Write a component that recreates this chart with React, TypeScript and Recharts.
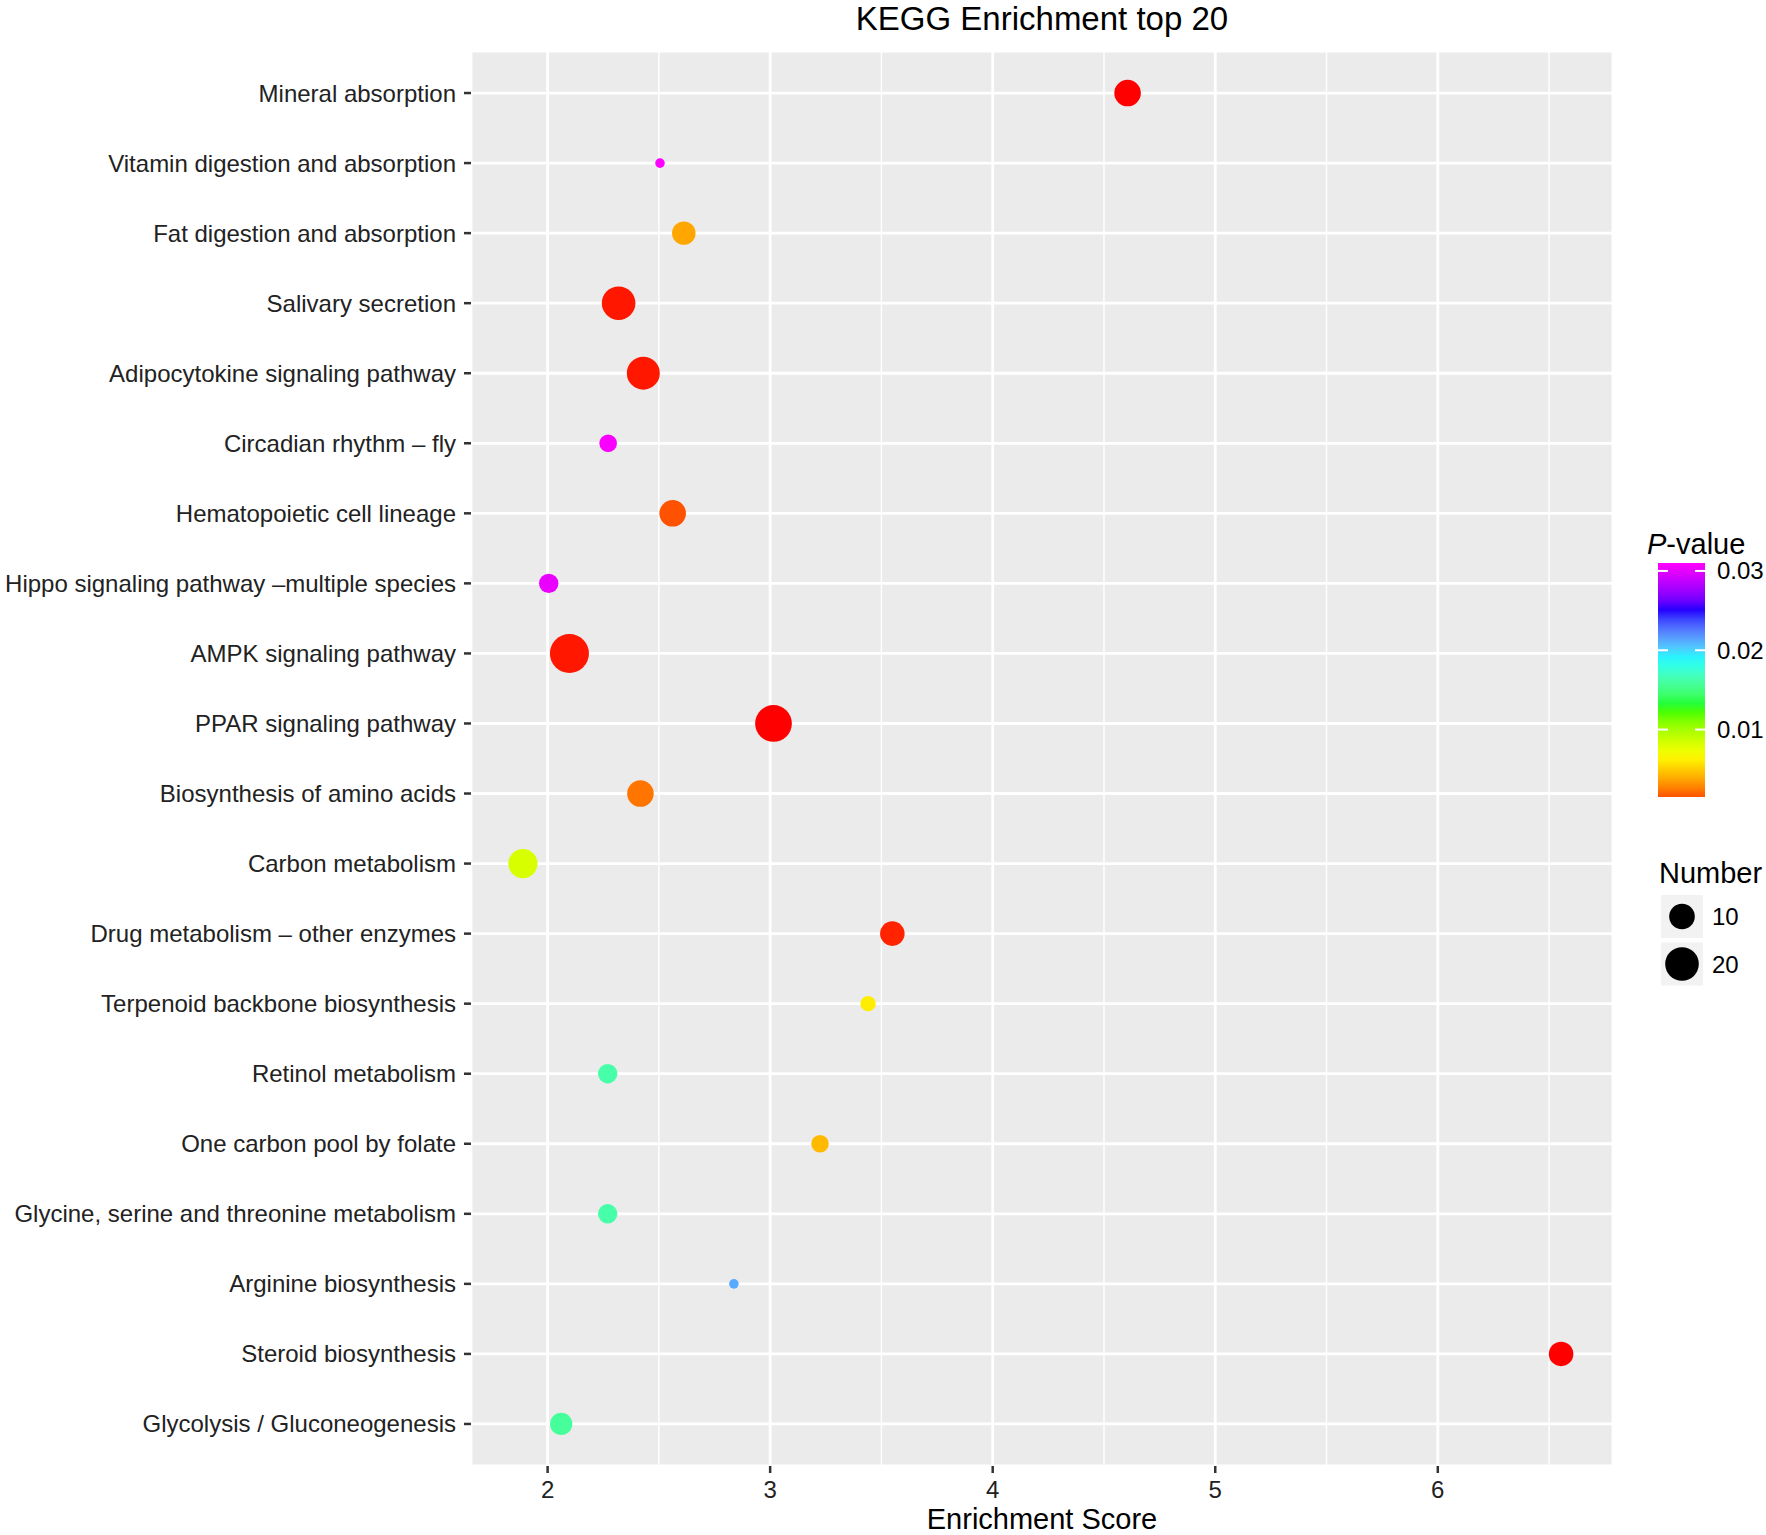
import { ScatterChart, Scatter, XAxis, YAxis, ZAxis, CartesianGrid, Customized } from 'recharts';

// rows from top to bottom, as in the figure
const pathways = [
  'Mineral absorption',
  'Vitamin digestion and absorption',
  'Fat digestion and absorption',
  'Salivary secretion',
  'Adipocytokine signaling pathway',
  'Circadian rhythm – fly',
  'Hematopoietic cell lineage',
  'Hippo signaling pathway –multiple species',
  'AMPK signaling pathway',
  'PPAR signaling pathway',
  'Biosynthesis of amino acids',
  'Carbon metabolism',
  'Drug metabolism – other enzymes',
  'Terpenoid backbone biosynthesis',
  'Retinol metabolism',
  'One carbon pool by folate',
  'Glycine, serine and threonine metabolism',
  'Arginine biosynthesis',
  'Steroid biosynthesis',
  'Glycolysis / Gluconeogenesis',
];
const enrichment = [4.606, 2.505, 2.612, 2.319, 2.43, 2.272, 2.562, 2.005, 2.098, 3.015, 2.417, 1.889, 3.549, 3.44, 2.27, 3.224, 2.27, 2.837, 6.554, 2.061];
const geneCount = [11, 2, 8, 20, 19, 4, 11, 5, 29, 25, 11, 14, 9, 3, 5, 4, 5, 2, 9, 7];
const pValue = [0.0015, 0.031, 0.0046, 0.0016, 0.0016, 0.0308, 0.0024, 0.0302, 0.0016, 0.0015, 0.0032, 0.0089, 0.0017, 0.0068, 0.0166, 0.0052, 0.0166, 0.0215, 0.0015, 0.0162];

const xTicks = [2, 3, 4, 5, 6];
const xMinorTicks = [2.5, 3.5, 4.5, 5.5, 6.5];
const pTicks = [0.01, 0.02, 0.03];
const countTicks = [10, 20];
const rainbowStops = ['#FF0000', '#FFFF00', '#00FF00', '#00FFFF', '#0000FF', '#FF00FF'];

const FONT = '"Liberation Sans", Arial, Helvetica, sans-serif';

const data = pathways.map((name, i) => ({
  name,
  row: i,
  score: enrichment[i],
  count: geneCount[i],
  p: pValue[i],
}));

// ggplot-like 5% expansion of the continuous x range
const xLo = Math.min(...enrichment);
const xHi = Math.max(...enrichment);
const xPad = (xHi - xLo) * 0.05;
const xDomain = [xLo - xPad, xHi + xPad];

const pMin = Math.min(...pValue);
const pMax = Math.max(...pValue);
const cMin = Math.min(...geneCount);
const cMax = Math.max(...geneCount);

// --- colour: gradient through the rainbow stops, interpolated in Lab ---
const toLin = (c: number) => (c <= 0.04045 ? c / 12.92 : Math.pow((c + 0.055) / 1.055, 2.4));
const fromLin = (c: number) => (c <= 0.0031308 ? 12.92 * c : 1.055 * Math.pow(c, 1 / 2.4) - 0.055);
const fLab = (t: number) => (t > 0.008856 ? Math.cbrt(t) : 7.787 * t + 16 / 116);
const fInv = (t: number) => (t > 0.206893 ? t * t * t : (t - 16 / 116) / 7.787);

const hexToLab = (hex: string) => {
  const r = toLin(parseInt(hex.slice(1, 3), 16) / 255);
  const g = toLin(parseInt(hex.slice(3, 5), 16) / 255);
  const b = toLin(parseInt(hex.slice(5, 7), 16) / 255);
  const x = (0.4124 * r + 0.3576 * g + 0.1805 * b) / 0.95047;
  const y = 0.2126 * r + 0.7152 * g + 0.0722 * b;
  const z = (0.0193 * r + 0.1192 * g + 0.9505 * b) / 1.08883;
  const fx = fLab(x);
  const fy = fLab(y);
  const fz = fLab(z);
  return [116 * fy - 16, 500 * (fx - fy), 200 * (fy - fz)];
};

const labToCss = ([L, a, bb]: number[]) => {
  const fy = (L + 16) / 116;
  const fx = fy + a / 500;
  const fz = fy - bb / 200;
  const x = fInv(fx) * 0.95047;
  const y = fInv(fy);
  const z = fInv(fz) * 1.08883;
  const r = 3.2406 * x - 1.5372 * y - 0.4986 * z;
  const g = -0.9689 * x + 1.8758 * y + 0.0415 * z;
  const b = 0.0557 * x - 0.204 * y + 1.057 * z;
  const ch = (v: number) => Math.round(255 * Math.max(0, Math.min(1, fromLin(Math.max(0, Math.min(1, v))))));
  return `rgb(${ch(r)}, ${ch(g)}, ${ch(b)})`;
};

const labStops = rainbowStops.map(hexToLab);
const rainbow = (t: number) => {
  const tt = Math.max(0, Math.min(1, t)) * (labStops.length - 1);
  const i = Math.min(labStops.length - 2, Math.floor(tt));
  const s = tt - i;
  const A = labStops[i];
  const B = labStops[i + 1];
  return labToCss([0, 1, 2].map((k) => A[k] + (B[k] - A[k]) * s));
};
const pColor = (p: number) => rainbow((p - pMin) / (pMax - pMin));

// area-style size scale: radius grows with sqrt of rescaled count
const radiusOf = (t: number) => 4.8 + 14.7 * Math.sqrt(Math.max(0, t));

const Dot = (props: any) => {
  const { cx, cy, payload, size } = props;
  if (cx == null || cy == null) return null;
  const t = typeof size === 'number' && !Number.isNaN(size) ? size : (payload.count - cMin) / (cMax - cMin);
  return <circle cx={cx} cy={cy} r={radiusOf(t)} fill={pColor(payload.p)} />;
};

const Decorations = () => {
  const barX = 1658;
  const barW = 47;
  const barTop = 563;
  const barBottom = 797;
  const py = (p: number) => barBottom - ((p - pMin) / (pMax - pMin)) * (barBottom - barTop);
  const stops = Array.from({ length: 26 }, (_, i) => i / 25);
  return (
    <g fontFamily={FONT}>
      <text x={1042} y={30} textAnchor="middle" fontSize={33} fill="#000">
        KEGG Enrichment top 20
      </text>
      <text x={1042} y={1529} textAnchor="middle" fontSize={29} fill="#000">
        Enrichment Score
      </text>

      <defs>
        <linearGradient id="pgrad" x1="0" y1="1" x2="0" y2="0">
          {stops.map((s) => (
            <stop key={s} offset={s} stopColor={rainbow(0.03 + s * 0.97)} />
          ))}
        </linearGradient>
      </defs>
      <text x={1647} y={554} fontSize={29} fill="#000">
        <tspan fontStyle="italic">P</tspan>-value
      </text>
      <rect x={barX} y={barTop} width={barW} height={barBottom - barTop} fill="url(#pgrad)" />
      {pTicks.map((p) => (
        <g key={p}>
          <line x1={barX} x2={barX + 10} y1={py(p)} y2={py(p)} stroke="#fff" strokeWidth={2} />
          <line x1={barX + barW - 10} x2={barX + barW} y1={py(p)} y2={py(p)} stroke="#fff" strokeWidth={2} />
          <text x={1717} y={py(p)} dominantBaseline="central" fontSize={24} fill="#000">
            {p.toFixed(2)}
          </text>
        </g>
      ))}

      <text x={1659} y={883} fontSize={29} fill="#000">
        Number
      </text>
      {countTicks.map((c, i) => {
        const top = 895 + i * 47.5;
        const cy = top + 21.5;
        return (
          <g key={c}>
            <rect x={1661} y={top} width={42} height={43} fill="#F2F2F2" />
            <circle cx={1682} cy={cy} r={radiusOf((c - cMin) / (cMax - cMin))} fill="#000" />
            <text x={1712} y={cy} dominantBaseline="central" fontSize={24} fill="#000">
              {c}
            </text>
          </g>
        );
      })}
    </g>
  );
};

export default function App() {
  return (
    <div style={{ position: 'absolute', left: 0, top: 0, width: 1766, height: 1535, background: '#fff' }}>
      <ScatterChart width={1766} height={1535} margin={{ top: 51, right: 153, bottom: 0, left: 0 }}>
        <XAxis
          type="number"
          dataKey="score"
          domain={xDomain}
          ticks={xTicks}
          allowDataOverflow
          height={69}
          axisLine={false}
          tickSize={7}
          tickMargin={8}
          tickLine={{ stroke: '#333', strokeWidth: 2.5 }}
          tick={{ fontSize: 24, fill: '#222', fontFamily: FONT }}
        />
        <XAxis xAxisId="minor" type="number" dataKey="score" domain={xDomain} ticks={xMinorTicks} allowDataOverflow hide />
        <YAxis
          type="number"
          dataKey="row"
          domain={[-0.6, pathways.length - 1 + 0.6]}
          ticks={pathways.map((_, i) => i)}
          interval={0}
          reversed
          allowDataOverflow
          width={471}
          axisLine={false}
          tickSize={7}
          tickMargin={8}
          tickLine={{ stroke: '#333', strokeWidth: 2.5 }}
          tickFormatter={(v: number) => pathways[v] ?? ''}
          tick={{ fontSize: 24, fill: '#222', fontFamily: FONT }}
        />
        <ZAxis type="number" dataKey="count" domain={[cMin, cMax]} range={[0, 1]} />
        <CartesianGrid fill="#EBEBEB" fillOpacity={1} stroke="#fff" strokeWidth={2.8} />
        <CartesianGrid xAxisId="minor" horizontal={false} stroke="#fff" strokeWidth={1.4} />
        <Scatter data={data} shape={<Dot />} isAnimationActive={false} />
        <Customized component={<Decorations />} />
      </ScatterChart>
    </div>
  );
}
